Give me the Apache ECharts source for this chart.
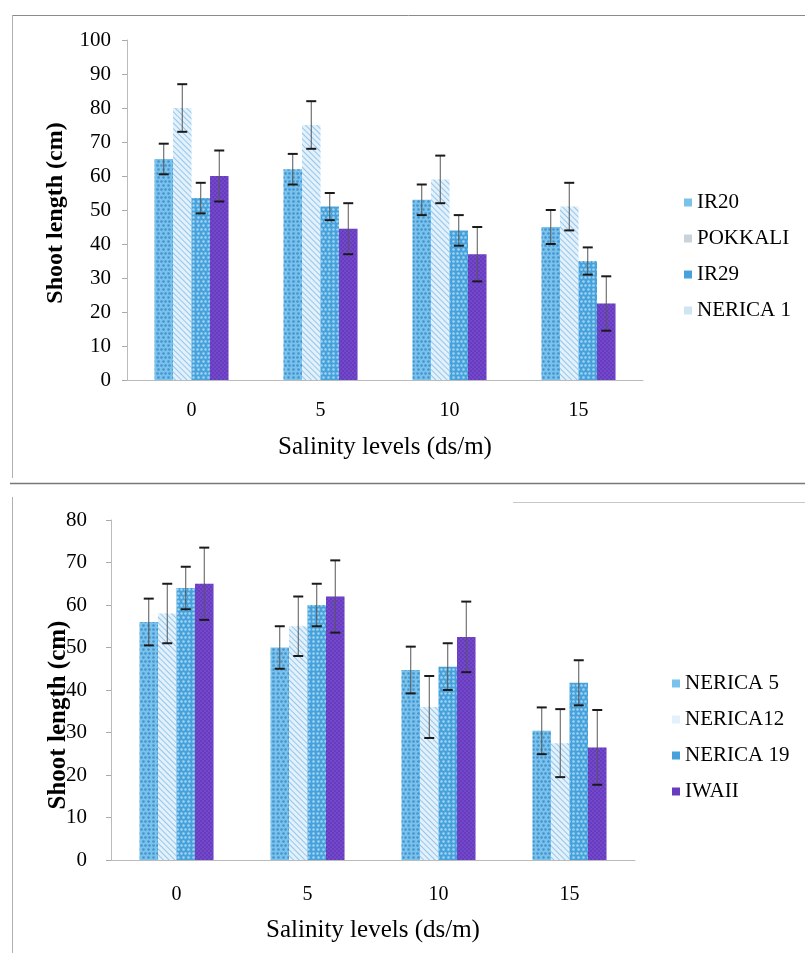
<!DOCTYPE html>
<html><head><meta charset="utf-8">
<script src="https://cdn.jsdelivr.net/npm/echarts@6.0.0/dist/echarts.min.js"></script>
<style>html,body{margin:0;padding:0;background:#fff}#c{width:805px;height:953px}</style>
</head><body><div id="c"></div>
<script>
// ---- data ----
const salinity = ['0', '5', '10', '15'];
const topNames = ['IR20', 'POKKALI', 'IR29', 'NERICA 1'];
const ir20 = [65, 62, 53, 45];
const ir20Err = [4.5, 4.5, 4.5, 5];
const pokkali = [80, 75, 59, 51];
const pokkaliErr = [7, 7, 7, 7];
const ir29 = [53.5, 51, 44, 35];
const ir29Err = [4.5, 4, 4.5, 4];
const nerica1 = [60, 44.5, 37, 22.5];
const nerica1Err = [7.5, 7.5, 8, 8];

const botNames = ['NERICA 5', 'NERICA12', 'NERICA 19', 'IWAII'];
const nerica5 = [56, 50, 44.7, 30.4];
const nerica5Err = [5.5, 5, 5.5, 5.5];
const nerica12 = [58, 55, 36, 27.5];
const nerica12Err = [7, 7, 7.3, 8];
const nerica19 = [64, 60, 45.5, 41.7];
const nerica19Err = [5, 5, 5.5, 5.3];
const iwaii = [65, 62, 52.5, 26.5];
const iwaiiErr = [8.5, 8.5, 8.3, 8.8];

const topTicks = [0, 100, 10];
const botTicks = [0, 80, 10];

// ---- styles ----
const SERIF = 'Liberation Serif';
const styles = [
  {color: '#78c2ec', decal: {symbol: 'circle', symbolSize: 0.85, dashArrayX: [[3, 1], [0, 2, 3, 0]], dashArrayY: [3, 1], color: 'rgba(20,100,180,0.5)'}},
  {color: '#e2f1fb', decal: {symbol: 'rect', symbolSize: 1, rotation: Math.PI / 4, dashArrayX: [1, 0], dashArrayY: [1, 3], color: 'rgba(100,170,222,0.6)'}},
  {color: '#45a2dc', decal: {symbol: 'circle', symbolSize: 0.85, dashArrayX: [[3, 1], [0, 2, 3, 0]], dashArrayY: [3, 1], color: 'rgba(225,242,255,0.6)'}},
  {color: '#683cc0', decal: {symbol: 'rect', symbolSize: 0.8, dashArrayX: [[2, 2], [0, 2, 2, 0]], dashArrayY: [2, 0], color: 'rgba(150,110,225,0.45)'}}
];
const BW = 18.5;

function barSeries(name, vals, k, ai) {
  return {
    type: 'bar', name: name, data: vals, xAxisIndex: ai, yAxisIndex: ai,
    barWidth: BW, barGap: '0%',
    itemStyle: {color: styles[k].color, decal: styles[k].decal}
  };
}
function errSeries(name, vals, errs, k, ai) {
  return {
    type: 'custom', name: 'err-' + name, xAxisIndex: ai, yAxisIndex: ai, z: 10,
    silent: true,
    data: vals.map((v, i) => [i, v - errs[i], v + errs[i]]),
    renderItem: function (params, api) {
      const lo = api.coord([api.value(0), api.value(1)]);
      const hi = api.coord([api.value(0), api.value(2)]);
      const x = lo[0] + (k - 1.5) * BW;
      const c = 5;
      return {type: 'group', children: [
        {type: 'line', shape: {x1: x, y1: hi[1], x2: x, y2: lo[1]}, style: {stroke: '#555', lineWidth: 1}},
        {type: 'line', shape: {x1: x - c, y1: hi[1], x2: x + c, y2: hi[1]}, style: {stroke: '#1a1a1a', lineWidth: 2}},
        {type: 'line', shape: {x1: x - c, y1: lo[1], x2: x + c, y2: lo[1]}, style: {stroke: '#1a1a1a', lineWidth: 2}}
      ]};
    }
  };
}

function xAx(gi, gap, lm) {
  return {
    type: 'category', gridIndex: gi, data: salinity,
    axisLine: {lineStyle: {color: '#bbb', width: 1}},
    axisTick: {show: false},
    axisLabel: {fontFamily: SERIF, fontSize: 20, color: '#000', margin: lm},
    name: 'Salinity levels (ds/m)', nameLocation: 'middle', nameGap: gap,
    nameTextStyle: {fontFamily: SERIF, fontSize: 25, color: '#000'}
  };
}
function yAx(gi, t, gap, fs, lm, pad) {
  return {
    type: 'value', gridIndex: gi, min: t[0], max: t[1], interval: t[2],
    axisLine: {show: true, lineStyle: {color: '#bbb'}},
    axisTick: {show: true, length: 5, lineStyle: {color: '#aaa'}},
    splitLine: {show: false},
    axisLabel: {fontFamily: SERIF, fontSize: 21, color: '#000', margin: lm},
    name: 'Shoot length (cm)', nameLocation: 'middle', nameGap: gap, nameRotate: 90,
    nameMoveOverlap: false,
    nameTextStyle: {fontFamily: SERIF, fontSize: fs, fontWeight: 'bold', color: '#000', padding: pad}
  };
}

const topVals = [ir20, pokkali, ir29, nerica1];
const topErrs = [ir20Err, pokkaliErr, ir29Err, nerica1Err];
const botVals = [nerica5, nerica12, nerica19, iwaii];
const botErrs = [nerica5Err, nerica12Err, nerica19Err, iwaiiErr];

const series = [];
topNames.forEach((n, k) => series.push(barSeries(n, topVals[k], k, 0)));
botNames.forEach((n, k) => series.push(barSeries(n, botVals[k], k, 1)));
topNames.forEach((n, k) => series.push(errSeries(n, topVals[k], topErrs[k], k, 0)));
botNames.forEach((n, k) => series.push(errSeries(n, botVals[k], botErrs[k], k, 1)));

const topLegendColors = ['#78c2ec', '#c9d3dc', '#45a2dc', '#cfe5f4'];
const botLegendColors = ['#78c2ec', '#e2f1fb', '#45a2dc', '#683cc0'];

const chart = echarts.init(document.getElementById('c'), null, {renderer: 'canvas'});
chart.setOption({
  backgroundColor: '#ffffff',
  animation: false,
  grid: [
    {left: 127, top: 40, width: 516, height: 340},
    {left: 111, top: 520, width: 524, height: 340}
  ],
  xAxis: [xAx(0, 55, 21), xAx(1, 58, 25)],
  yAxis: [yAx(0, topTicks, 59, 24, 16, [0, 6, 0, 0]), yAx(1, botTicks, 40, 25, 24, [0, 50, 0, 0])],
  legend: [
    {orient: 'vertical', left: 679, top: 187, itemWidth: 8, itemHeight: 8, itemGap: 15,
     icon: 'rect',
     data: topNames.map((n, k) => ({name: n, itemStyle: {color: topLegendColors[k], decal: 'none'}})),
     textStyle: {fontFamily: SERIF, fontSize: 21, color: '#000'}},
    {orient: 'vertical', left: 667, top: 668, itemWidth: 8, itemHeight: 8, itemGap: 15,
     icon: 'rect',
     data: botNames.map((n, k) => ({name: n, itemStyle: {color: botLegendColors[k], decal: 'none'}})),
     textStyle: {fontFamily: SERIF, fontSize: 21, color: '#000'}}
  ],
  series: series,
  graphic: [
    {type: 'line', shape: {x1: 12, y1: 15.5, x2: 805, y2: 15.5}, style: {stroke: '#8a8a8a', lineWidth: 1}},
    {type: 'line', shape: {x1: 12.5, y1: 15, x2: 12.5, y2: 478}, style: {stroke: '#b0b0b0', lineWidth: 1}},
    {type: 'line', shape: {x1: 10, y1: 483.5, x2: 805, y2: 483.5}, style: {stroke: '#777', lineWidth: 1.5}},
    {type: 'line', shape: {x1: 513, y1: 502.5, x2: 805, y2: 502.5}, style: {stroke: '#c8c8c8', lineWidth: 1}},
    {type: 'line', shape: {x1: 12.5, y1: 497, x2: 12.5, y2: 953}, style: {stroke: '#b0b0b0', lineWidth: 1}}
  ]
});
</script>
</body></html>
